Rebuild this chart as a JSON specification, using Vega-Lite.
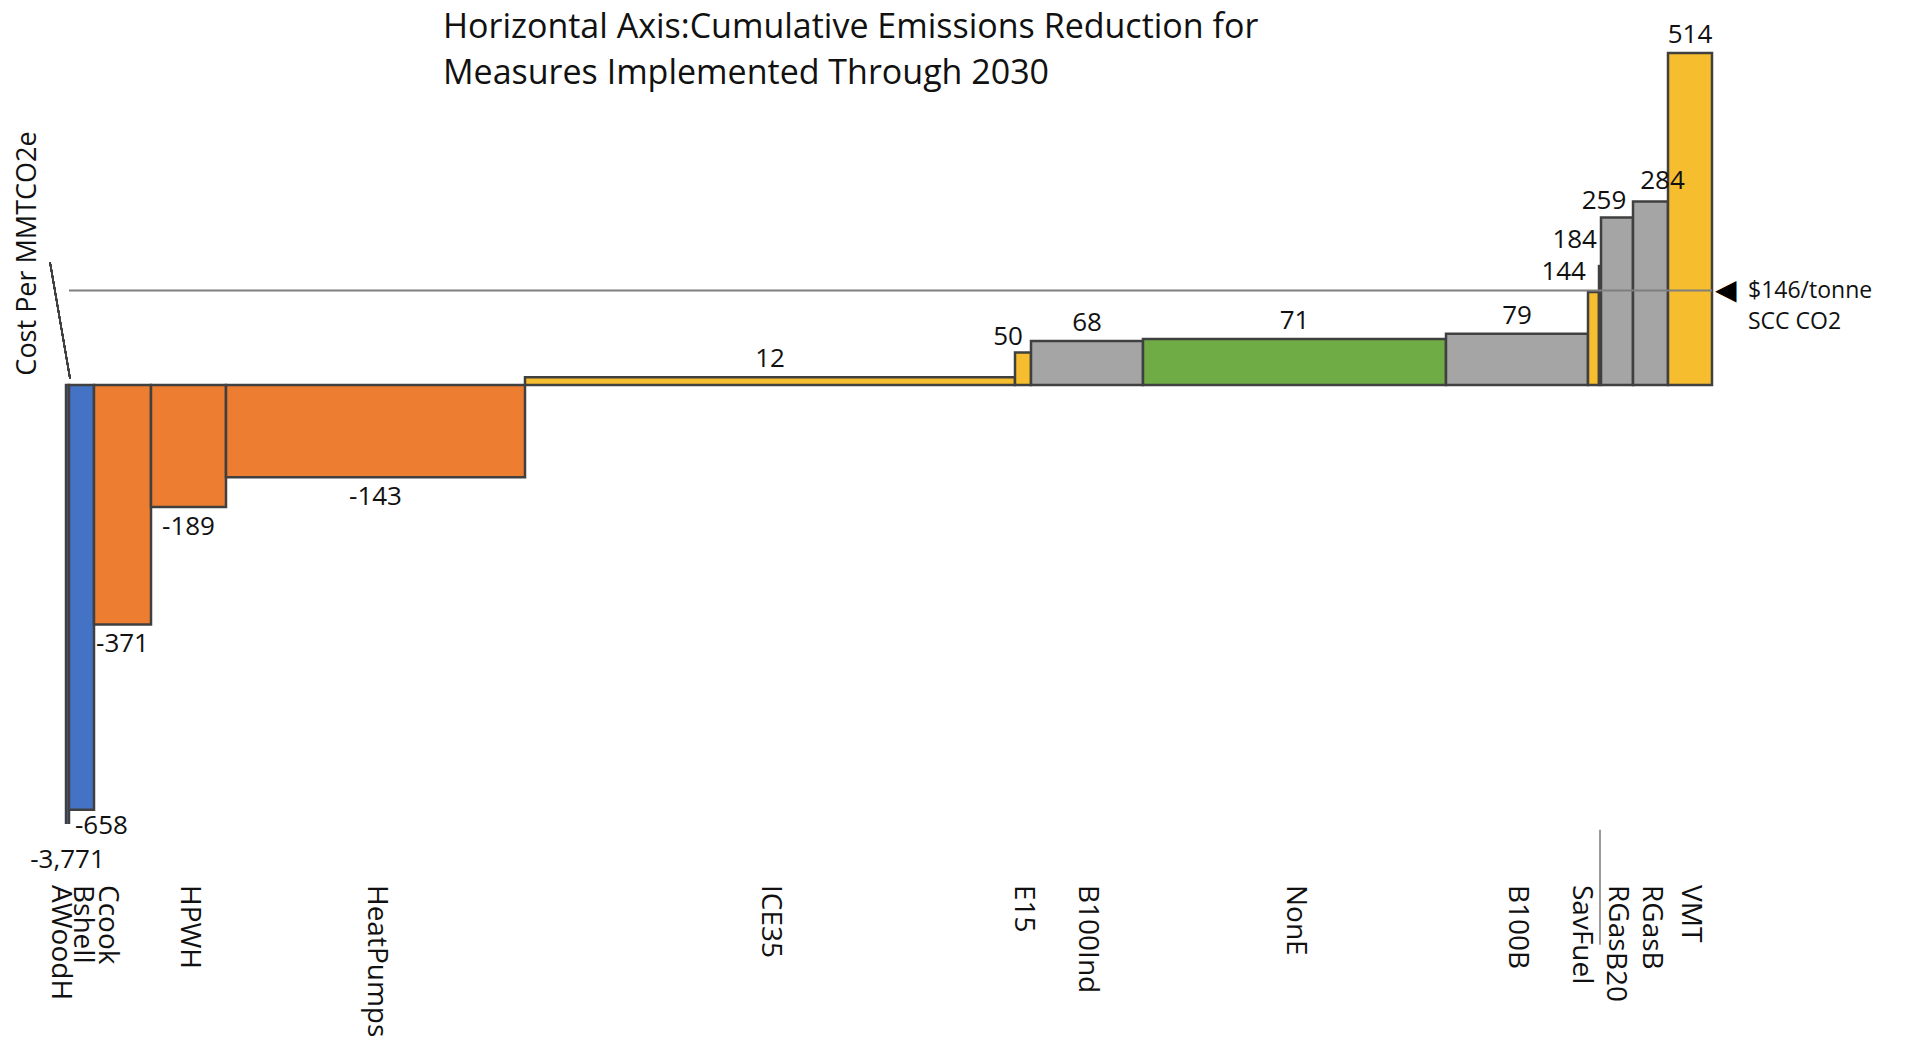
{
  "$schema": "https://vega.github.io/schema/vega-lite/v6.json",
  "width": 1913,
  "height": 824,
  "autosize": {"type": "none"},
  "padding": {"left": 0, "top": 0, "right": 0, "bottom": 213},
  "background": "white",
  "config": {
    "view": {"stroke": null},
    "text": {"font": "Open Sans", "color": "#111"},
    "locale": {"number": {"decimal": ".", "thousands": ",", "grouping": [3], "currency": ["$", ""], "minus": "-"}}
  },
  "title": {
    "text": ["Horizontal Axis:Cumulative Emissions Reduction for", "Measures Implemented Through 2030"],
    "anchor": "start",
    "frame": "group",
    "orient": "top",
    "offset": 0,
    "dx": 443,
    "dy": 91,
    "baseline": "top",
    "font": "Open Sans",
    "fontSize": 34,
    "fontWeight": "normal",
    "color": "#111",
    "lineHeight": 46
  },
  "datasets": {
    "measures": [
      {"measure": "AWoodH", "sector": "Buildings Efficiency", "x0": 0.00, "x1": 0.03, "cost": -3771},
      {"measure": "Bshell", "sector": "Buildings Efficiency", "x0": 0.03, "x1": 0.28, "cost": -658},
      {"measure": "Ccook", "sector": "Buildings Electrification", "x0": 0.28, "x1": 0.85, "cost": -371},
      {"measure": "HPWH", "sector": "Buildings Electrification", "x0": 0.85, "x1": 1.60, "cost": -189},
      {"measure": "HeatPumps", "sector": "Buildings Electrification", "x0": 1.60, "x1": 4.59, "cost": -143},
      {"measure": "ICE35", "sector": "Transportation", "x0": 4.59, "x1": 9.49, "cost": 12},
      {"measure": "E15", "sector": "Transportation", "x0": 9.49, "x1": 9.65, "cost": 50},
      {"measure": "B100Ind", "sector": "Fuels", "x0": 9.65, "x1": 10.77, "cost": 68},
      {"measure": "NonE", "sector": "Non-Energy", "x0": 10.77, "x1": 13.80, "cost": 71},
      {"measure": "B100B", "sector": "Fuels", "x0": 13.80, "x1": 15.22, "cost": 79},
      {"measure": "SavFuel", "sector": "Transportation", "x0": 15.22, "x1": 15.33, "cost": 144},
      {"measure": "B20", "sector": "Fuels", "x0": 15.33, "x1": 15.35, "cost": 184},
      {"measure": "RGas", "sector": "Fuels", "x0": 15.35, "x1": 15.67, "cost": 259},
      {"measure": "RGasB", "sector": "Fuels", "x0": 15.67, "x1": 16.02, "cost": 284},
      {"measure": "VMT", "sector": "Transportation", "x0": 16.02, "x1": 16.46, "cost": 514}
    ],
    "scc": [
      {"label": "$146/tonne\nSCC CO2", "cost": 146, "x0": 0.03, "x1": 16.46}
    ]
  },
  "data": {"name": "measures"},
  "layer": [
    {
      "mark": {"type": "rect", "stroke": "#404040", "strokeWidth": 2.5, "clip": true},
      "encoding": {
        "x": {"field": "x0", "type": "quantitative", "scale": {"domain": [-0.66, 18.47], "nice": false, "zero": false}, "axis": null},
        "x2": {"field": "x1"},
        "y": {
          "field": "cost", "type": "quantitative",
          "scale": {"domain": [-680, 596], "nice": false, "zero": false},
          "axis": {
            "title": "Cost Per MMTCO2e", "domain": false, "ticks": false, "labels": false, "grid": false,
            "titleFont": "Open Sans", "titleFontSize": 27, "titleFontWeight": "normal", "titleColor": "#111",
            "titleAngle": -90, "titleX": 27, "titleY": 253, "titleAlign": "center", "titleBaseline": "middle"
          }
        },
        "y2": {"datum": 0},
        "color": {
          "field": "sector", "type": "nominal",
          "scale": {
            "domain": ["Buildings Efficiency", "Buildings Electrification", "Transportation", "Fuels", "Non-Energy"],
            "range": ["#4472C4", "#ED7D31", "#F6BE2E", "#A5A5A5", "#6FAC46"]
          },
          "legend": null
        }
      }
    },
    {
      "mark": {"type": "rule", "color": "#404040", "strokeWidth": 1.5},
      "encoding": {
        "x": {"datum": -0.16},
        "y": {"datum": 190},
        "x2": {"datum": 0.04},
        "y2": {"datum": 10}
      }
    },
    {
      "data": {"name": "scc"},
      "mark": {"type": "rule", "color": "#7f7f7f", "strokeWidth": 2},
      "encoding": {
        "x": {"field": "x0", "type": "quantitative"},
        "x2": {"field": "x1"},
        "y": {"field": "cost", "type": "quantitative"}
      }
    },
    {
      "data": {"name": "scc"},
      "mark": {"type": "text", "font": "DejaVu Sans", "fontSize": 28, "align": "left", "baseline": "middle", "dx": 3, "color": "#000"},
      "encoding": {
        "x": {"field": "x1", "type": "quantitative"},
        "y": {"field": "cost", "type": "quantitative"},
        "text": {"value": "◀"}
      }
    },
    {
      "data": {"name": "scc"},
      "mark": {"type": "text", "fontSize": 23, "align": "left", "baseline": "middle", "dx": 36, "lineBreak": "\n", "lineHeight": 31},
      "encoding": {
        "x": {"field": "x1", "type": "quantitative"},
        "y": {"field": "cost", "type": "quantitative"},
        "text": {"field": "label", "type": "nominal"}
      }
    },
    {
      "transform": [
        {"filter": "datum.cost > 0 && indexof(['SavFuel','B20','E15','RGas','RGasB'], datum.measure) < 0"},
        {"fold": ["x0", "x1"], "as": ["edge", "xpos"]}
      ],
      "mark": {"type": "text", "fontSize": 26, "baseline": "alphabetic", "dy": -10},
      "encoding": {
        "x": {"field": "xpos", "type": "quantitative", "aggregate": "mean"},
        "y": {"field": "cost", "type": "quantitative"},
        "detail": {"field": "measure"},
        "text": {"field": "cost", "type": "quantitative", "format": ","}
      }
    },
    {
      "transform": [
        {"filter": "datum.measure == 'E15'"},
        {"fold": ["x0", "x1"], "as": ["edge", "xpos"]}
      ],
      "mark": {"type": "text", "fontSize": 26, "baseline": "alphabetic", "dx": -15, "dy": -8},
      "encoding": {
        "x": {"field": "xpos", "type": "quantitative", "aggregate": "mean"},
        "y": {"field": "cost", "type": "quantitative"},
        "detail": {"field": "measure"},
        "text": {"field": "cost", "type": "quantitative", "format": ","}
      }
    },
    {
      "transform": [
        {"filter": "datum.measure == 'RGas'"},
        {"fold": ["x0", "x1"], "as": ["edge", "xpos"]}
      ],
      "mark": {"type": "text", "fontSize": 26, "baseline": "alphabetic", "dx": -13, "dy": -9},
      "encoding": {
        "x": {"field": "xpos", "type": "quantitative", "aggregate": "mean"},
        "y": {"field": "cost", "type": "quantitative"},
        "detail": {"field": "measure"},
        "text": {"field": "cost", "type": "quantitative", "format": ","}
      }
    },
    {
      "transform": [
        {"filter": "datum.measure == 'RGasB'"},
        {"fold": ["x0", "x1"], "as": ["edge", "xpos"]}
      ],
      "mark": {"type": "text", "fontSize": 26, "baseline": "alphabetic", "dx": 12, "dy": -12},
      "encoding": {
        "x": {"field": "xpos", "type": "quantitative", "aggregate": "mean"},
        "y": {"field": "cost", "type": "quantitative"},
        "detail": {"field": "measure"},
        "text": {"field": "cost", "type": "quantitative", "format": ","}
      }
    },
    {
      "transform": [
        {"filter": "datum.cost < 0 && datum.measure != 'Bshell' && datum.measure != 'AWoodH'"},
        {"fold": ["x0", "x1"], "as": ["edge", "xpos"]}
      ],
      "mark": {"type": "text", "fontSize": 26, "baseline": "top", "dy": 7},
      "encoding": {
        "x": {"field": "xpos", "type": "quantitative", "aggregate": "mean"},
        "y": {"field": "cost", "type": "quantitative"},
        "detail": {"field": "measure"},
        "text": {"field": "cost", "type": "quantitative", "format": ","}
      }
    },
    {
      "transform": [{"filter": "datum.measure == 'SavFuel'"}],
      "mark": {"type": "text", "fontSize": 26, "align": "right", "baseline": "alphabetic", "dx": -2, "dy": -12},
      "encoding": {
        "x": {"field": "x0", "type": "quantitative"},
        "y": {"field": "cost", "type": "quantitative"},
        "text": {"field": "cost", "type": "quantitative", "format": ","}
      }
    },
    {
      "transform": [{"filter": "datum.measure == 'B20'"}],
      "mark": {"type": "text", "fontSize": 26, "align": "right", "baseline": "alphabetic", "dx": -2, "dy": -18},
      "encoding": {
        "x": {"field": "x0", "type": "quantitative"},
        "y": {"field": "cost", "type": "quantitative"},
        "text": {"field": "cost", "type": "quantitative", "format": ","}
      }
    },
    {
      "transform": [{"filter": "datum.measure == 'Bshell'"}],
      "mark": {"type": "text", "fontSize": 26, "align": "left", "baseline": "top", "dx": 6, "dy": 3},
      "encoding": {
        "x": {"field": "x0", "type": "quantitative"},
        "y": {"field": "cost", "type": "quantitative"},
        "text": {"field": "cost", "type": "quantitative", "format": ","}
      }
    },
    {
      "transform": [
        {"filter": "datum.measure == 'AWoodH'"},
        {"fold": ["x0", "x1"], "as": ["edge", "xpos"]}
      ],
      "mark": {"type": "text", "fontSize": 26, "baseline": "top", "dy": 23},
      "encoding": {
        "x": {"field": "xpos", "type": "quantitative", "aggregate": "mean"},
        "y": {"datum": -680},
        "detail": {"field": "measure"},
        "text": {"field": "cost", "type": "quantitative", "format": ","}
      }
    },
    {
      "transform": [
        {"filter": "datum.measure != 'AWoodH' && datum.measure != 'Ccook' && datum.measure != 'SavFuel' && datum.measure != 'B20'"},
        {"fold": ["x0", "x1"], "as": ["edge", "xpos"]}
      ],
      "mark": {"type": "text", "fontSize": 28, "angle": 90, "align": "left", "baseline": "middle", "dx": 61},
      "encoding": {
        "x": {"field": "xpos", "type": "quantitative", "aggregate": "mean"},
        "y": {"datum": -680},
        "text": {"field": "measure", "type": "nominal"}
      }
    },
    {
      "transform": [
        {"filter": "datum.measure == 'AWoodH'"},
        {"fold": ["x0", "x1"], "as": ["edge", "xpos"]}
      ],
      "mark": {"type": "text", "fontSize": 28, "angle": 90, "align": "left", "baseline": "middle", "dx": 61, "dy": 8},
      "encoding": {
        "x": {"field": "xpos", "type": "quantitative", "aggregate": "mean"},
        "y": {"datum": -680},
        "text": {"field": "measure", "type": "nominal"}
      }
    },
    {
      "transform": [
        {"filter": "datum.measure == 'Ccook'"},
        {"fold": ["x0", "x1"], "as": ["edge", "xpos"]}
      ],
      "mark": {"type": "text", "fontSize": 28, "angle": 90, "align": "left", "baseline": "middle", "dx": 61, "dy": 16},
      "encoding": {
        "x": {"field": "xpos", "type": "quantitative", "aggregate": "mean"},
        "y": {"datum": -680},
        "text": {"field": "measure", "type": "nominal"}
      }
    },
    {
      "transform": [
        {"filter": "datum.measure == 'SavFuel'"},
        {"fold": ["x0", "x1"], "as": ["edge", "xpos"]}
      ],
      "mark": {"type": "text", "fontSize": 28, "angle": 90, "align": "left", "baseline": "middle", "dx": 61, "dy": 13},
      "encoding": {
        "x": {"field": "xpos", "type": "quantitative", "aggregate": "mean"},
        "y": {"datum": -680},
        "text": {"field": "measure", "type": "nominal"}
      }
    },
    {
      "transform": [
        {"filter": "datum.measure == 'B20'"},
        {"fold": ["x0", "x1"], "as": ["edge", "xpos"]}
      ],
      "mark": {"type": "text", "fontSize": 28, "angle": 90, "align": "left", "baseline": "middle", "dx": 128, "dy": -15},
      "encoding": {
        "x": {"field": "xpos", "type": "quantitative", "aggregate": "mean"},
        "y": {"datum": -680},
        "text": {"field": "measure", "type": "nominal"}
      }
    },
    {
      "transform": [
        {"filter": "datum.measure == 'B20'"},
        {"fold": ["x0", "x1"], "as": ["edge", "xpos"]}
      ],
      "mark": {"type": "rule", "color": "#9a9a9a", "strokeWidth": 2},
      "encoding": {
        "x": {"field": "xpos", "type": "quantitative", "aggregate": "mean"},
        "y": {"datum": -689},
        "y2": {"datum": -867}
      }
    }
  ]
}
